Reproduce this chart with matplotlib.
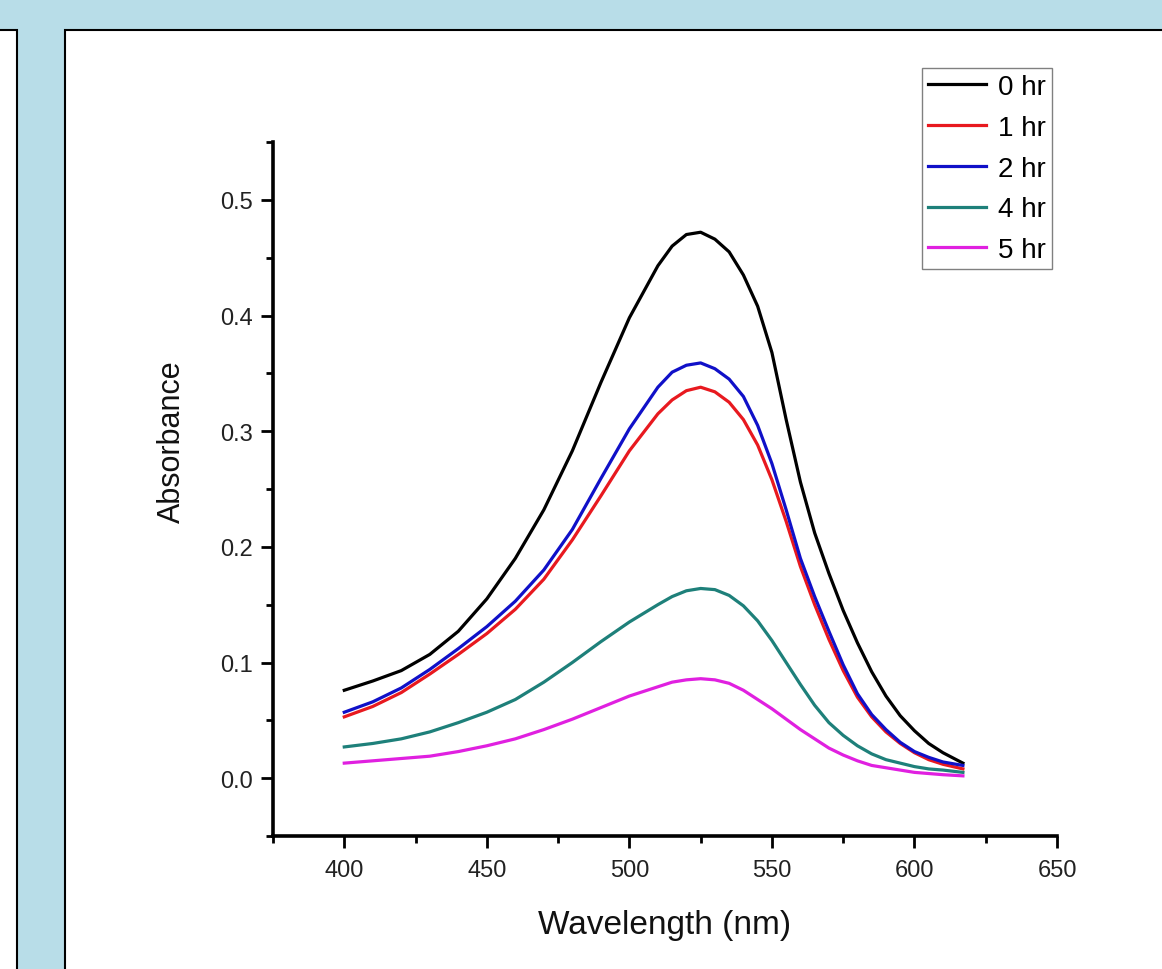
import matplotlib
matplotlib.use("Agg")
import matplotlib.pyplot as plt
from matplotlib.patches import Rectangle
from matplotlib.ticker import MultipleLocator, FormatStrFormatter

plt.rcParams["font.family"] = ["Liberation Sans", "DejaVu Sans"]

# === Data ===
wavelength = [400, 410, 420, 430, 440, 450, 460, 470, 480, 490, 500, 510, 515,
              520, 525, 530, 535, 540, 545, 550, 555, 560, 565, 570, 575, 580,
              585, 590, 595, 600, 605, 610, 617]

abs_0hr = [0.076, 0.084, 0.093, 0.107, 0.127, 0.155, 0.190, 0.232, 0.283, 0.342,
           0.398, 0.443, 0.460, 0.470, 0.472, 0.466, 0.455, 0.435, 0.408, 0.368,
           0.310, 0.256, 0.212, 0.177, 0.145, 0.117, 0.092, 0.071, 0.054, 0.041,
           0.030, 0.022, 0.013]
abs_1hr = [0.053, 0.062, 0.074, 0.090, 0.107, 0.125, 0.146, 0.172, 0.206, 0.244,
           0.283, 0.315, 0.327, 0.335, 0.338, 0.334, 0.325, 0.310, 0.288, 0.258,
           0.222, 0.183, 0.150, 0.120, 0.093, 0.070, 0.053, 0.040, 0.030, 0.022,
           0.016, 0.012, 0.008]
abs_2hr = [0.057, 0.066, 0.078, 0.094, 0.112, 0.131, 0.153, 0.180, 0.215, 0.259,
           0.302, 0.338, 0.351, 0.357, 0.359, 0.354, 0.345, 0.330, 0.305, 0.272,
           0.232, 0.190, 0.157, 0.127, 0.098, 0.073, 0.055, 0.042, 0.031, 0.023,
           0.018, 0.014, 0.011]
abs_4hr = [0.027, 0.030, 0.034, 0.040, 0.048, 0.057, 0.068, 0.083, 0.100, 0.118,
           0.135, 0.150, 0.157, 0.162, 0.164, 0.163, 0.158, 0.149, 0.136, 0.119,
           0.100, 0.081, 0.063, 0.048, 0.037, 0.028, 0.021, 0.016, 0.013, 0.010,
           0.008, 0.007, 0.005]
abs_5hr = [0.013, 0.015, 0.017, 0.019, 0.023, 0.028, 0.034, 0.042, 0.051, 0.061,
           0.071, 0.079, 0.083, 0.085, 0.086, 0.085, 0.082, 0.076, 0.068, 0.060,
           0.051, 0.042, 0.034, 0.026, 0.020, 0.015, 0.011, 0.009, 0.007, 0.005,
           0.004, 0.003, 0.002]

labels = ["0 hr", "1 hr", "2 hr", "4 hr", "5 hr"]
colors = ["#000000", "#e8191f", "#1010c8", "#1e807a", "#e020e0"]
series = [abs_0hr, abs_1hr, abs_2hr, abs_4hr, abs_5hr]

# === Figure with the blue frame and white panels ===
fig = plt.figure(figsize=(11.62, 9.70), dpi=100, facecolor="#b8dde8")
top = 1 - 31 / 970
fig.patches.append(Rectangle((-0.01, -0.01), 0.01 + 17 / 1162, top + 0.01,
                             transform=fig.transFigure, facecolor="white",
                             edgecolor="black", lw=1.5, zorder=-2))
fig.patches.append(Rectangle((65 / 1162, -0.01), 1.0, top + 0.01,
                             transform=fig.transFigure, facecolor="white",
                             edgecolor="black", lw=1.5, zorder=-2))

ax = fig.add_axes([273 / 1162, 133 / 970, 784 / 1162, 694 / 970])
ax.set_facecolor("none")
ax.set_zorder(1)

for y, c, lab in zip(series, colors, labels):
    ax.plot(wavelength, y, color=c, lw=2.3, label=lab, solid_joinstyle="round")

ax.set_xlim(375, 650)
ax.set_ylim(-0.05, 0.55)
ax.xaxis.set_major_locator(MultipleLocator(50))
ax.xaxis.set_minor_locator(MultipleLocator(25))
ax.yaxis.set_major_locator(MultipleLocator(0.1))
ax.yaxis.set_minor_locator(MultipleLocator(0.05))
ax.yaxis.set_major_formatter(FormatStrFormatter("%.1f"))

for s in ["top", "right"]:
    ax.spines[s].set_visible(False)
for s in ["left", "bottom"]:
    ax.spines[s].set_linewidth(2.6)

ax.tick_params(which="major", direction="out", length=8.5, width=2,
               labelsize=17, labelcolor="#222222")
ax.tick_params(which="minor", direction="out", length=5, width=2)
ax.tick_params(axis="x", which="major", pad=8)
ax.tick_params(axis="y", which="major", pad=6)

ax.set_xlabel("Wavelength (nm)", fontsize=24, color="#111111")
ax.set_ylabel("Absorbance", fontsize=22, color="#111111")
ax.xaxis.set_label_coords(0.5, -0.105)
ax.yaxis.set_label_coords(-0.11, 0.57)

fig.legend(loc="upper left", bbox_to_anchor=(922 / 1162, 1 - 69 / 970),
           borderaxespad=0, fontsize=20, frameon=True, fancybox=False,
           edgecolor="#808080", framealpha=1, handlelength=2.1,
           handletextpad=0.4, labelspacing=0.53, borderpad=0.22)

fig.savefig("out.png", dpi=100, facecolor=fig.get_facecolor())
